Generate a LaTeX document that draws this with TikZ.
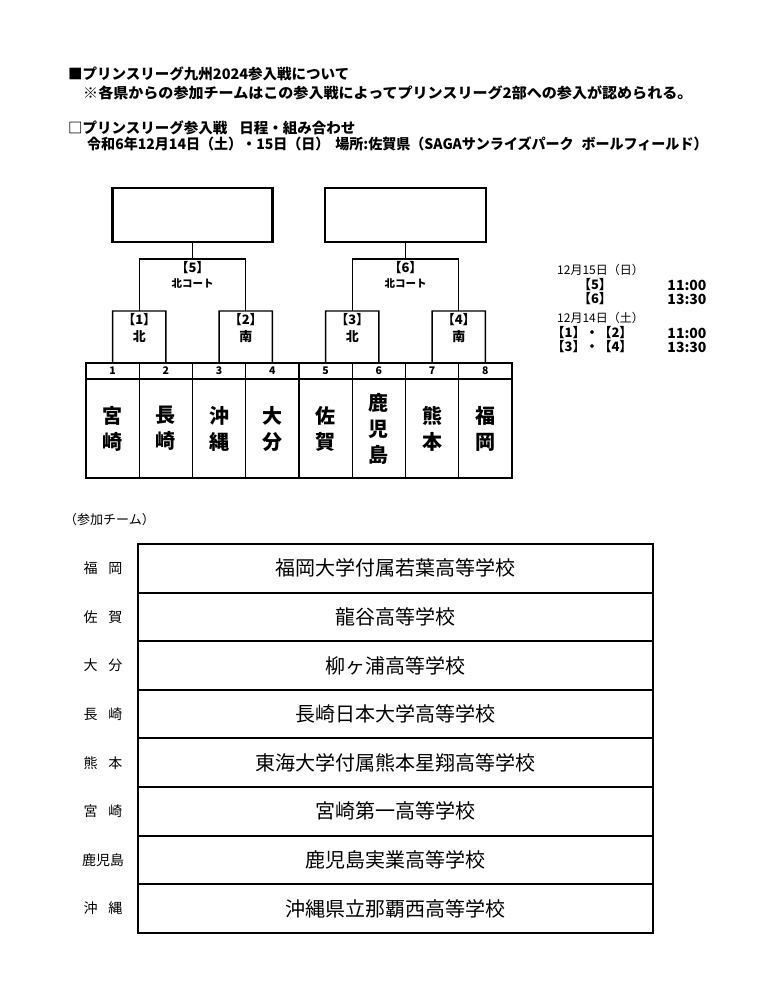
\documentclass[tikz,border=0pt]{standalone}
\usepackage{fontspec}
\usepackage{graphicx}
\setmainfont{Noto Sans CJK JP}
\begin{document}
\begin{tikzpicture}[x=1pt,y=-1pt,
  hdr/.style={anchor=west, inner sep=0pt, font=\fontsize{14.5}{16}\selectfont\bfseries},
  bigbox/.style={draw, line width=2.4pt, minimum width=160pt, minimum height=54pt, inner sep=0pt},
  brk/.style={draw, line width=1.4pt},
  mlabel/.style={inner sep=0pt, font=\fontsize{13}{15}\selectfont\bfseries},
  clabel/.style={inner sep=0pt, font=\fontsize{10.5}{12}\selectfont\bfseries},
  numcell/.style={draw, line width=1.3pt, minimum width=53.25pt, minimum height=16pt, inner sep=0pt, font=\fontsize{10.5}{12}\selectfont\bfseries},
  namecell/.style={draw, line width=1.3pt, minimum width=53.25pt, minimum height=99pt, inner sep=0pt, align=center, font=\fontsize{20}{26}\selectfont\bfseries},
  sdate/.style={anchor=west, inner sep=0pt, font=\fontsize{12}{14}\selectfont},
  smatch/.style={inner sep=0pt, font=\fontsize{13}{15}\selectfont\bfseries},
  stime/.style={inner sep=0pt, font=\fontsize{14}{16}\selectfont\bfseries},
  trow/.style={draw, line width=2pt, minimum width=515pt, minimum height=48.6pt, inner sep=0pt, font=\fontsize{20}{24}\selectfont},
  tlab/.style={inner sep=0pt, font=\fontsize{14}{16}\selectfont}
]
\useasboundingbox[fill=white] (0,0) rectangle (781,989);

% header
\node[hdr] (h1) at (68,74) {■プリンスリーグ九州2024参入戦について};
\node[hdr] (h2) at (83,93) {\scalebox{1.038}[1]{※各県からの参加チームはこの参入戦によってプリンスリーグ2部への参入が認められる。}};
\node[hdr] (h3) at (68,128) {□プリンスリーグ参入戦\hspace{12pt}日程・組み合わせ};
\node[hdr] (h4) at (87,144) {\scalebox{0.968}[1]{令和6年12月14日（土）・15日（日）\hspace{6pt}場所:佐賀県（SAGAサンライズパーク\hspace{8pt}ボールフィールド）}};

% top boxes
\node[bigbox] (tb1) at (192.5,215) {};
\node[bigbox, minimum width=161pt] (tb2) at (405.5,215) {};

% table of prefectures
\foreach \i/\name in {1/宮\\崎, 2/長\\崎, 3/沖\\縄, 4/大\\分, 5/佐\\賀, 6/鹿\\児\\島, 7/熊\\本, 8/福\\岡}{
  \node[numcell] (n\i) at ({86+53.25*(\i-0.5)},371) {\i};
  \node[namecell] (c\i) at ({86+53.25*(\i-0.5)},428.5) {\name};
}

% small match boxes
\coordinate (s1l) at (112.6,311); \coordinate (s1r) at (165.9,311);
\coordinate (s2l) at (219.1,311); \coordinate (s2r) at (272.4,311);
\coordinate (s3l) at (325.6,311); \coordinate (s3r) at (378.9,311);
\coordinate (s4l) at (432.1,311); \coordinate (s4r) at (485.4,311);
\draw[brk] (n1.north) -- (s1l) -- (s1r) -- (n2.north);
\draw[brk] (n3.north) -- (s2l) -- (s2r) -- (n4.north);
\draw[brk] (n5.north) -- (s3l) -- (s3r) -- (n6.north);
\draw[brk] (n7.north) -- (s4l) -- (s4r) -- (n8.north);
\node[mlabel] (l1) at (139.25,320) {【1】};
\node[mlabel] (k1) at (139.25,337) {北};
\node[mlabel] (l2) at (245.75,320) {【2】};
\node[mlabel] (k2) at (245.75,337) {南};
\node[mlabel] (l3) at (352.25,320) {【3】};
\node[mlabel] (k3) at (352.25,337) {北};
\node[mlabel] (l4) at (458.75,320) {【4】};
\node[mlabel] (k4) at (458.75,337) {南};

% bracket lines
\coordinate (j5) at (192.5,259);
\coordinate (j6) at (405.5,259);
\coordinate (m1) at (139.25,311);
\coordinate (m2) at (245.75,311);
\coordinate (m3) at (352.25,311);
\coordinate (m4) at (458.75,311);
\draw[brk] (tb1.south) -- (j5);
\draw[brk] (m1) |- (j5) -| (m2);
\draw[brk] (tb2.south) -- (j6);
\draw[brk] (m3) |- (j6) -| (m4);
\node[mlabel] (l5) at (192.5,268) {【5】};
\node[clabel] (k5) at (192.5,284) {北コート};
\node[mlabel] (l6) at (405.5,268) {【6】};
\node[clabel] (k6) at (405.5,284) {北コート};

% schedule
\node[sdate] (d1) at (557,270) {12月15日（日）};
\node[smatch] (g5) at (595,285) {【5】};
\node[stime] (t5) at (687,285) {11:00};
\node[smatch] (g6) at (595,299) {【6】};
\node[stime] (t6) at (687,299) {13:30};
\node[sdate] (d2) at (557,318) {12月14日（土）};
\node[smatch] (g12) at (592,333) {【1】・【2】};
\node[stime] (t12) at (687,333) {11:00};
\node[smatch] (g34) at (592,347) {【3】・【4】};
\node[stime] (t34) at (687,347) {13:30};

% participating teams
\node[anchor=west, inner sep=0pt, font=\fontsize{13}{15}\selectfont] (pt) at (64,520) {（参加チーム）};
\foreach \i/\lab/\team in {
  1/福\hspace{11pt}岡/福岡大学付属若葉高等学校,
  2/佐\hspace{11pt}賀/龍谷高等学校,
  3/大\hspace{11pt}分/柳ヶ浦高等学校,
  4/長\hspace{11pt}崎/長崎日本大学高等学校,
  5/熊\hspace{11pt}本/東海大学付属熊本星翔高等学校,
  6/宮\hspace{11pt}崎/宮崎第一高等学校,
  7/鹿児島/鹿児島実業高等学校,
  8/沖\hspace{11pt}縄/沖縄県立那覇西高等学校}{
  \node[trow] (r\i) at (395.5,{544+48.6*(\i-0.5)}) {\team};
  \node[tlab] (lab\i) at (103,{544+48.6*(\i-0.5)}) {\lab};
}
\end{tikzpicture}
\end{document}
